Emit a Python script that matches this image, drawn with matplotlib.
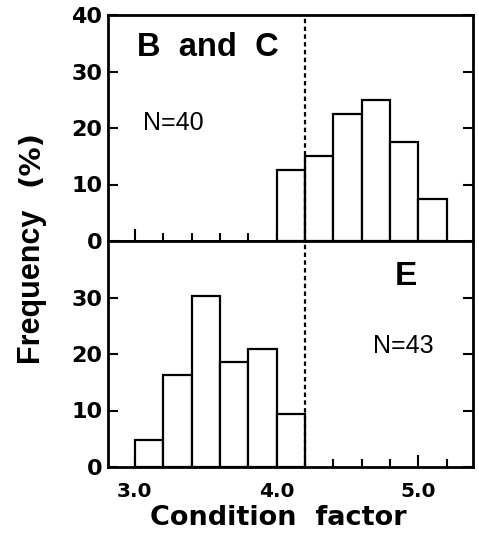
import matplotlib
matplotlib.use("Agg")
import matplotlib.pyplot as plt
import numpy as np

# Data
bin_edges_top = [4.0, 4.2, 4.4, 4.6, 4.8, 5.0, 5.2]
freq_top = [12.5, 15.0, 22.5, 25.0, 17.5, 7.5]
bin_edges_bot = [3.0, 3.2, 3.4, 3.6, 3.8, 4.0, 4.2]
freq_bot = [4.7, 16.3, 30.2, 18.6, 20.9, 9.3]
label_top = "B  and  C"
n_top = "N=40"
label_bot = "E"
n_bot = "N=43"
ylabel_word = "Frequency"
ylabel_unit = "(%)"
xlabel = "Condition  factor"
xtick_labels = ["3.0", "4.0", "5.0"]
threshold = 4.2

plt.rcParams['font.family'] = ['DejaVu Sans']

fig = plt.figure(figsize=(4.79, 5.54), dpi=100)
W, H = 479, 554
left, right = 108 / W, 473 / W
ax_top = fig.add_axes([left, 1 - 241 / H, right - left, 226 / H])
ax_bot = fig.add_axes([left, 1 - 467 / H, right - left, 226 / H])

for ax, edges, freq in [(ax_top, bin_edges_top, freq_top), (ax_bot, bin_edges_bot, freq_bot)]:
    ax.bar(edges[:-1], freq, width=np.diff(edges), align='edge',
           facecolor='white', edgecolor='black', linewidth=1.6, zorder=2)
    ax.set_xlim(2.81, 5.385)
    ax.set_ylim(0, 40)
    for s in ax.spines.values():
        s.set_linewidth(2.0)
    ax.set_xticks([3.0, 4.0, 5.0])
    ax.set_xticks(np.arange(3.0, 5.39, 0.2), minor=True)
    ax.tick_params(axis='x', which='major', direction='in', length=9, width=1.5,
                   labelsize=14.5, pad=11)
    ax.tick_params(axis='x', which='minor', direction='in', length=6, width=1.5)
    ax.tick_params(axis='y', which='major', direction='in', length=7, width=1.5,
                   labelsize=16, left=True, right=True, pad=4)
    ax.axvline(threshold, color='black', linestyle=(0, (2, 1.5)), linewidth=1.6, zorder=3)

ax_top.set_yticks([0, 10, 20, 30, 40])
ax_top.set_xticklabels([])
ax_bot.set_yticks([0, 10, 20, 30])
ax_bot.set_xticklabels(xtick_labels)
for lab in (ax_top.get_yticklabels() + ax_bot.get_yticklabels()
            + ax_bot.get_xticklabels()):
    lab.set_fontweight('bold')

ax_top.text(0.08, 0.855, label_top, transform=ax_top.transAxes, fontsize=23.5,
            fontweight='bold', va='center', ha='left', family='Liberation Sans')
ax_top.text(0.095, 0.52, n_top, transform=ax_top.transAxes, fontsize=18,
            va='center', ha='left', family='Liberation Sans')
ax_bot.text(0.815, 0.845, label_bot, transform=ax_bot.transAxes, fontsize=24,
            fontweight='bold', va='center', ha='center', family='Liberation Sans')
ax_bot.text(0.808, 0.535, n_bot, transform=ax_bot.transAxes, fontsize=18,
            va='center', ha='center', family='Liberation Sans')

# y label: word and unit, sharing a baseline
fig.text(38 / W, 1 - 362 / H, ylabel_word, rotation=90, rotation_mode='anchor',
         fontsize=22, fontweight='bold', family='Liberation Sans',
         ha='left', va='baseline')
fig.text(38 / W, 1 - 130 / H, ylabel_unit, rotation=90, rotation_mode='anchor',
         fontsize=21, fontweight='bold', ha='right', va='baseline')
fig.text(278 / W, 1 - 518 / H, xlabel, fontsize=19.5,
         fontweight='bold', va='center', ha='center')

fig.savefig("out.png", dpi=100)
